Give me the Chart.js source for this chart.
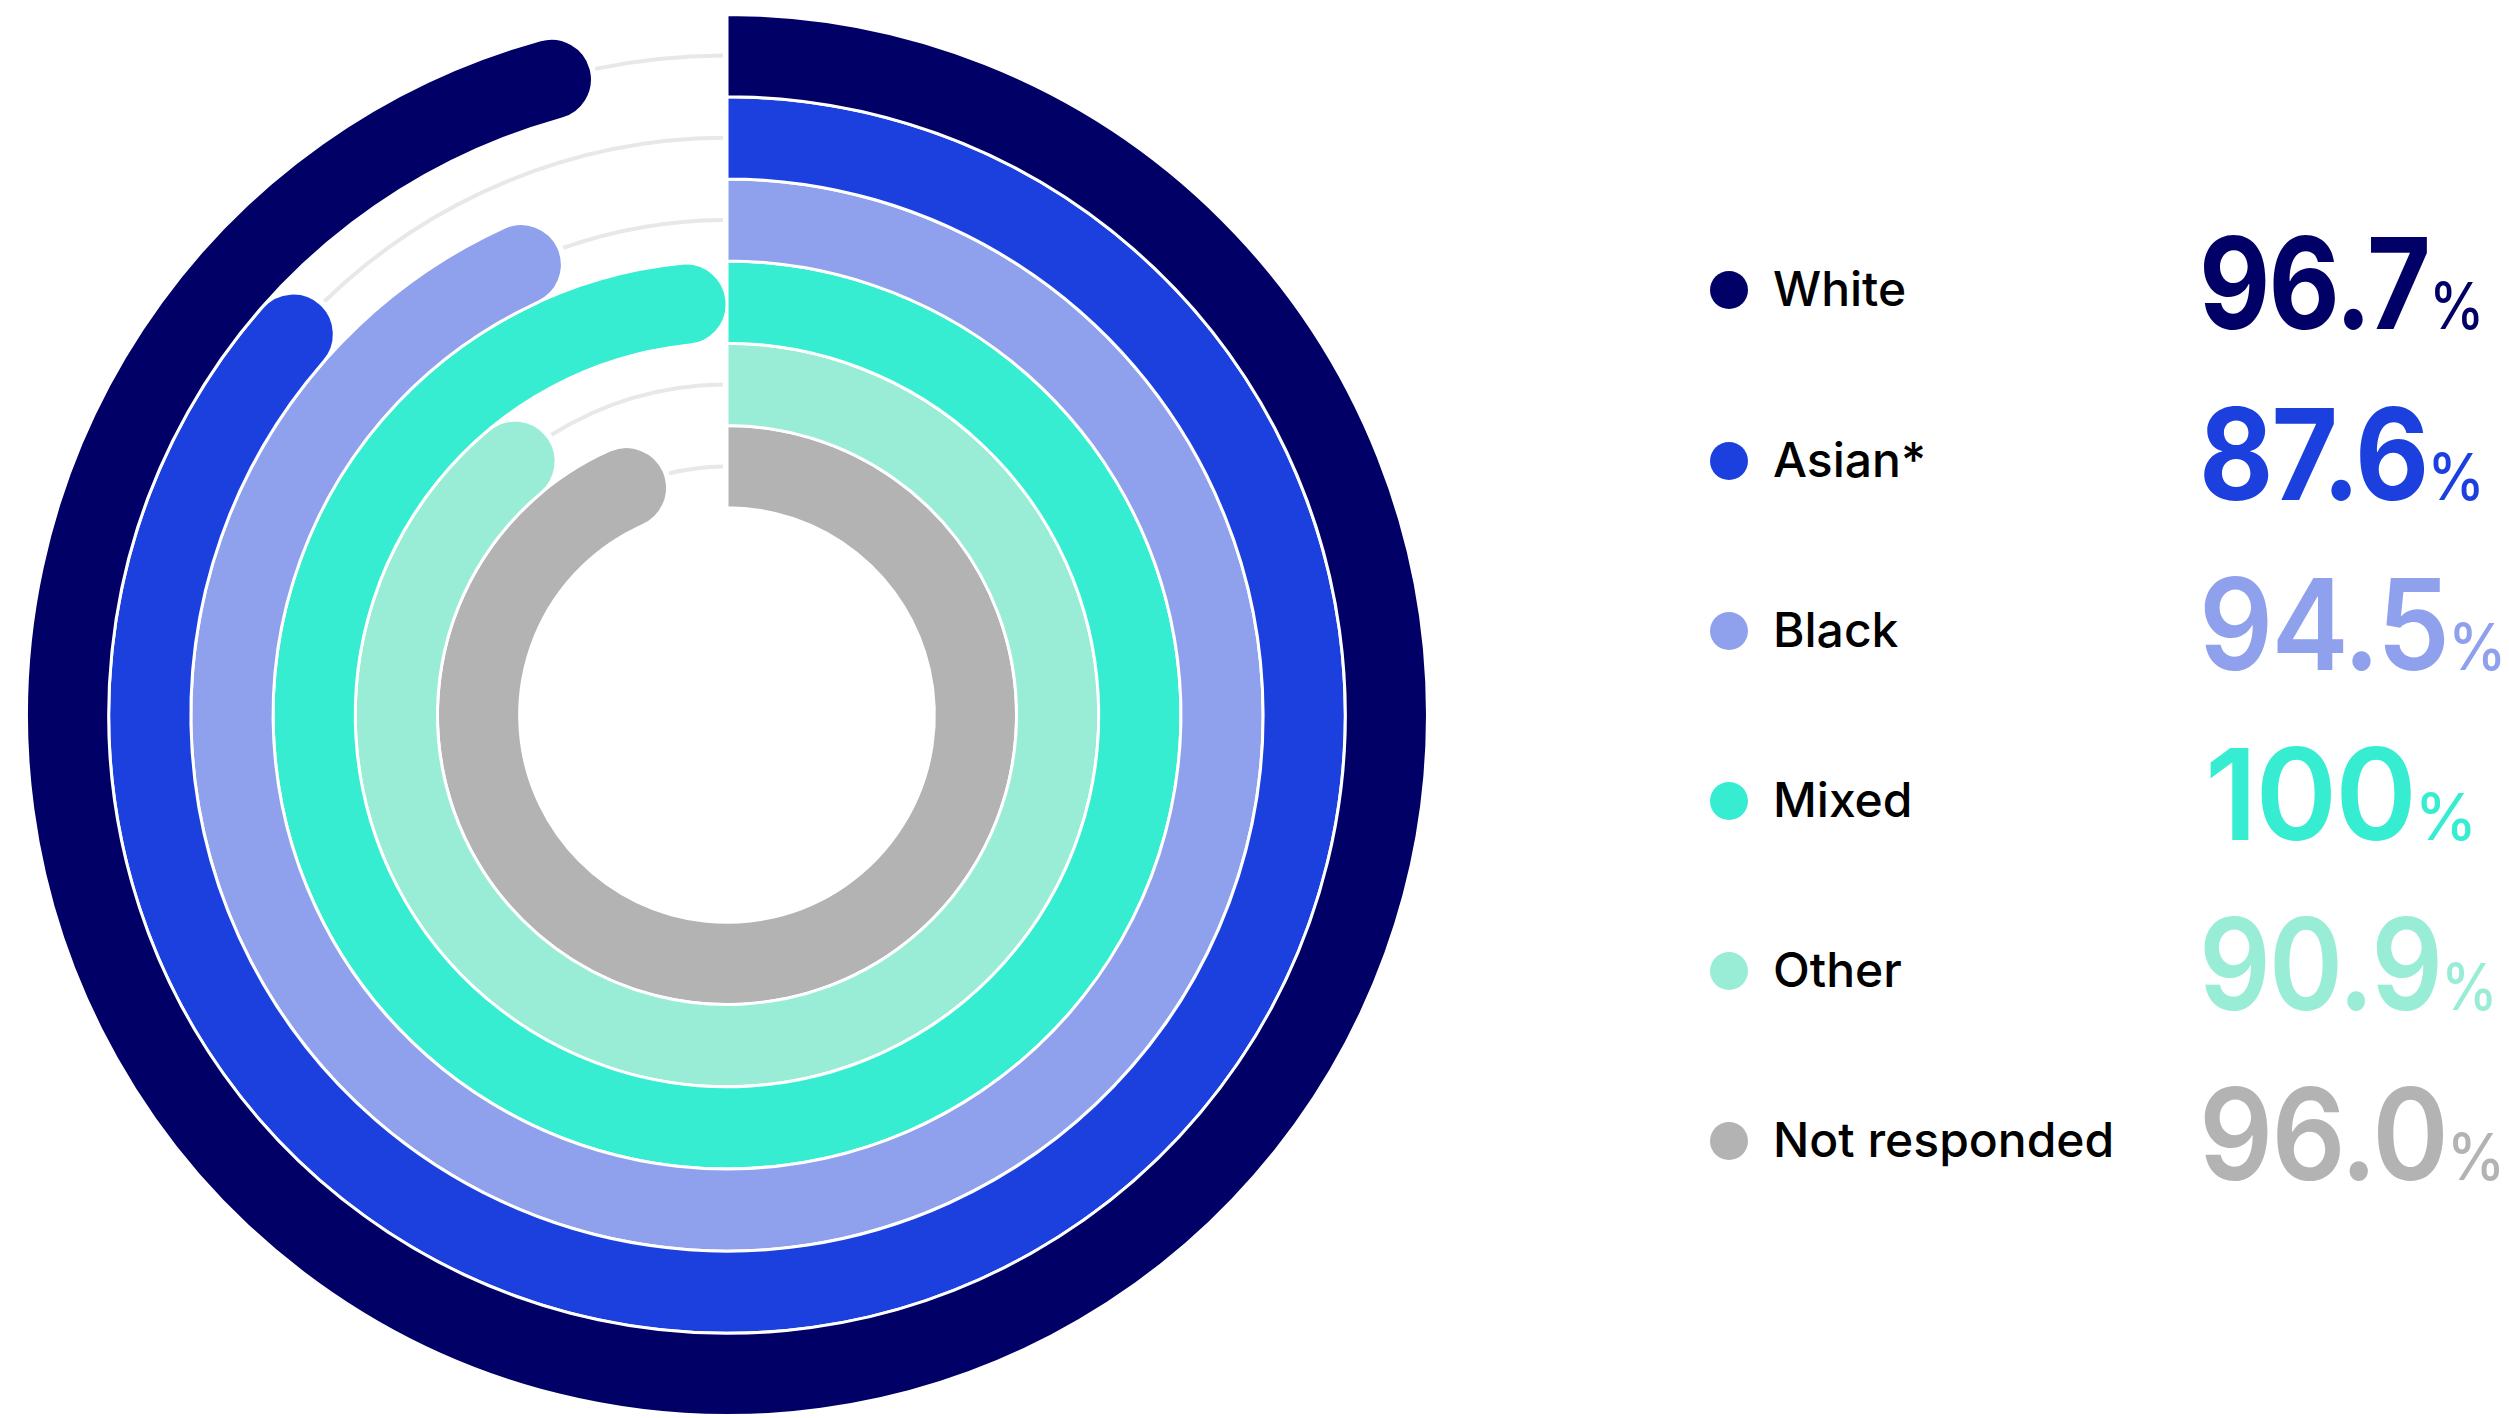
<!DOCTYPE html>
<html><head><meta charset="utf-8">
<script src="https://cdn.jsdelivr.net/npm/chart.js@4.4.0/dist/chart.umd.min.js"></script>
<style>
html,body{margin:0;padding:0;background:#fff;width:2509px;height:1418px;overflow:hidden;}
#chartBox{position:absolute;left:25px;top:13px;width:1404px;height:1404px;}
.row{position:absolute;left:0;height:0;width:2509px;}
.dot{position:absolute;left:1710px;top:-19px;width:38px;height:38px;border-radius:50%;}
.lab{position:absolute;left:1773px;top:-25px;font-family:Inter,'Noto Sans',sans-serif;font-weight:500;font-size:48px;line-height:48px;color:#000;white-space:nowrap;}
.val{position:absolute;left:2199px;top:-70px;font-family:Inter,'Noto Sans',sans-serif;font-size:127px;line-height:127px;letter-spacing:-2px;white-space:nowrap;transform-origin:0 0;}
.val span{font-size:64px;font-weight:500;letter-spacing:0;margin-left:0px;}
</style></head>
<body>
<div id="chartBox"><canvas id="c"></canvas></div>
<div id="legend"></div>
<script>
const categories = ['White', 'Asian*', 'Black', 'Mixed', 'Other', 'Not responded'];
const values = [96.7, 87.6, 94.5, 100, 90.9, 96.0];
const valueLabels = ['96.7', '87.6', '94.5', '100', '90.9', '96.0'];
const colors = ['#000066', '#1C40DE', '#8FA1EC', '#36EDD2', '#99EDD6', '#B3B3B3'];
const valueWeights = [750, 700, 600, 600, 600, 600];
const valueScaleX = [0.865, 0.9, 0.914, 0.975, 0.885, 0.914];
const valueLeft = [2199, 2199, 2199, 2205, 2199, 2199];
const rowCenters = [290, 461, 631, 801, 971, 1141];
const trackColor = '#E8E8E8';

const trackPlugin = {
  id: 'track',
  beforeDatasetsDraw(chart) {
    const ctx = chart.ctx;
    ctx.save();
    chart.data.datasets.forEach((ds, i) => {
      const meta = chart.getDatasetMeta(i);
      const el = meta.data[1];
      if (!el) return;
      const p = el.getProps(['x', 'y', 'startAngle', 'endAngle', 'innerRadius', 'outerRadius'], true);
      if (p.endAngle - p.startAngle <= 0.002) return;
      const r = (p.innerRadius + p.outerRadius) / 2;
      const gap = 4 / r;
      ctx.beginPath();
      ctx.arc(p.x, p.y, r, p.startAngle + gap, p.endAngle - gap);
      ctx.strokeStyle = trackColor;
      ctx.lineWidth = 4;
      ctx.lineCap = 'butt';
      ctx.stroke();
    });
    ctx.restore();
  }
};

new Chart(document.getElementById('c'), {
  type: 'doughnut',
  data: {
    labels: ['value', 'rest'],
    datasets: categories.map((cat, i) => ({
      label: cat,
      data: [values[i], 100 - values[i]],
      backgroundColor: [colors[i], 'rgba(0,0,0,0)'],
      borderColor: ['#ffffff', 'rgba(0,0,0,0)'],
      borderWidth: [3, 0],
      hoverBorderWidth: 3,
      hoverOffset: 0,
      offset: 0,
      borderRadius: (c) => c.dataIndex === 0 ? {outerStart: 0, innerStart: 0, outerEnd: 80, innerEnd: 80} : 0
    }))
  },
  options: {
    responsive: true,
    maintainAspectRatio: false,
    animation: false,
    events: [],
    cutout: '29.6%',
    rotation: 0,
    circumference: 360,
    layout: {padding: 0},
    plugins: {legend: {display: false}, tooltip: {enabled: false}}
  },
  plugins: [trackPlugin]
});

const legend = document.getElementById('legend');
categories.forEach((cat, i) => {
  const row = document.createElement('div');
  row.className = 'row';
  row.style.top = rowCenters[i] + 'px';
  const dot = document.createElement('div');
  dot.className = 'dot';
  dot.style.background = colors[i];
  const lab = document.createElement('div');
  lab.className = 'lab';
  lab.textContent = cat;
  const val = document.createElement('div');
  val.className = 'val';
  val.style.color = colors[i];
  val.style.fontWeight = valueWeights[i];
  val.style.left = valueLeft[i] + 'px';
  val.style.transform = 'scaleX(' + valueScaleX[i] + ')';
  val.textContent = valueLabels[i];
  const pct = document.createElement('span');
  pct.textContent = '%';
  val.appendChild(pct);
  row.appendChild(dot); row.appendChild(lab); row.appendChild(val);
  legend.appendChild(row);
});
</script>
</body></html>
